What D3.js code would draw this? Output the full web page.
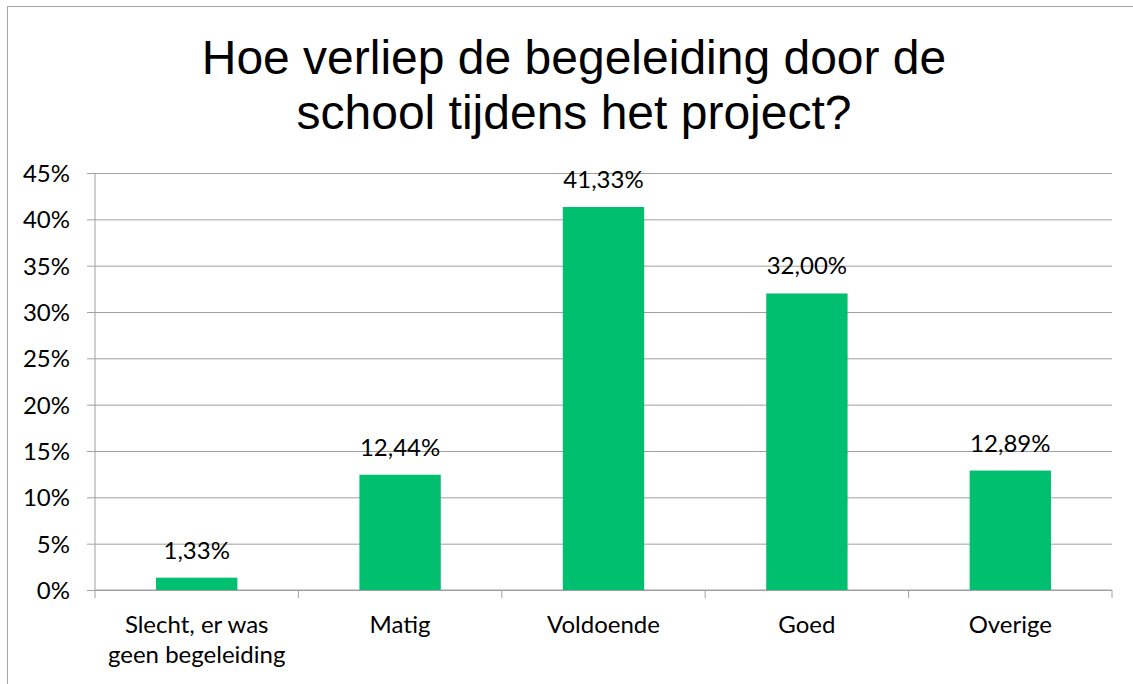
<!DOCTYPE html>
<html>
<head>
<meta charset="utf-8">
<script src="https://cdn.jsdelivr.net/npm/d3@7"></script>
<style>
  body { margin: 0; background: #fff; }
  svg text { fill: #000; }
</style>
</head>
<body>
<div id="chart"></div>
<script>
// data
var categories = ["Slecht, er was geen begeleiding", "Matig", "Voldoende", "Goed", "Overige"];
var categoryLines = [["Slecht, er was", "geen begeleiding"], ["Matig"], ["Voldoende"], ["Goed"], ["Overige"]];
var shares = [1.33, 12.44, 41.33, 32.00, 12.89];
var yTicks = [0, 5, 10, 15, 20, 25, 30, 35, 40, 45];
var titleLines = ["Hoe verliep de begeleiding door de", "school tijdens het project?"];

var W = 1133, H = 684;
var margin = {top: 173, right: 21, bottom: 94, left: 95};
var width = W - margin.left - margin.right,
    height = H - margin.top - margin.bottom;

var labelFont = "Lato, 'Open Sans', sans-serif";

var svg = d3.select("#chart").append("svg")
    .attr("width", W)
    .attr("height", H);

// chart frame
svg.append("rect")
    .attr("x", 7.5).attr("y", 6.5)
    .attr("width", W).attr("height", H)
    .attr("fill", "none")
    .attr("stroke", "#a6a6a6")
    .attr("stroke-width", 1);

// title
svg.append("text")
    .attr("text-anchor", "middle")
    .style("font-family", "'Liberation Sans', Arial, sans-serif")
    .style("font-size", "48px")
    .selectAll("tspan")
    .data(titleLines)
    .enter().append("tspan")
      .attr("x", 574)
      .attr("y", function(d, i) { return 74 + i * 55; })
      .text(function(d) { return d; });

var g = svg.append("g")
    .attr("transform", "translate(" + margin.left + "," + margin.top + ")");

var x = d3.scaleBand()
    .domain(categories)
    .range([0, width])
    .padding(0);

var y = d3.scaleLinear()
    .domain([0, 45])
    .range([height, 0]);

// gridlines + left ticks
var yAxis = g.append("g")
    .call(d3.axisLeft(y)
      .tickValues(yTicks)
      .tickSize(-width)
      .tickFormat(function(d) { return d + "%"; }));
yAxis.select(".domain").remove();
yAxis.selectAll(".tick line")
    .attr("x1", -8)
    .attr("stroke", "#a0a0a0");
yAxis.selectAll(".tick text")
    .attr("x", -25)
    .attr("dy", "0.36em")
    .style("font-family", labelFont)
    .style("font-size", "24px");

// left axis line
g.append("line")
    .attr("x1", 0).attr("x2", 0)
    .attr("y1", 0).attr("y2", height)
    .attr("stroke", "#a0a0a0");

// bottom axis with ticks at category boundaries
var bounds = categories.map(function(c) { return x(c); }).concat([width]);
g.append("line")
    .attr("x1", 0).attr("x2", width)
    .attr("y1", height).attr("y2", height)
    .attr("stroke", "#a0a0a0");
g.selectAll("line.xtick")
  .data(bounds)
  .enter().append("line")
    .attr("class", "xtick")
    .attr("x1", function(d) { return d; })
    .attr("x2", function(d) { return d; })
    .attr("y1", height)
    .attr("y2", height + 8)
    .attr("stroke", "#a0a0a0");

// category labels
g.selectAll("text.cat")
  .data(categories)
  .enter().append("text")
    .attr("class", "cat")
    .attr("text-anchor", "middle")
    .style("font-family", labelFont)
    .style("font-size", "24px")
    .each(function(d, i) {
      var cx = x(d) + x.bandwidth() / 2;
      d3.select(this).selectAll("tspan")
        .data(categoryLines[i])
        .enter().append("tspan")
          .attr("x", cx)
          .attr("y", function(t, j) { return height + 43 + j * 30; })
          .text(function(t) { return t; });
    });

// bars
var barW = x.bandwidth() * 0.4;
g.selectAll("rect.bar")
  .data(shares)
  .enter().append("rect")
    .attr("class", "bar")
    .attr("x", function(d, i) { return x(categories[i]) + (x.bandwidth() - barW) / 2; })
    .attr("y", function(d) { return y(d); })
    .attr("width", barW)
    .attr("height", function(d) { return height - y(d); })
    .attr("fill", "#00bf6f");

// value labels
g.selectAll("text.val")
  .data(shares)
  .enter().append("text")
    .attr("class", "val")
    .attr("text-anchor", "middle")
    .attr("x", function(d, i) { return x(categories[i]) + x.bandwidth() / 2; })
    .attr("y", function(d) { return y(d) - 19; })
    .style("font-family", labelFont)
    .style("font-size", "24px")
    .text(function(d) { return d.toFixed(2).replace(".", ",") + "%"; });
</script>
</body>
</html>
